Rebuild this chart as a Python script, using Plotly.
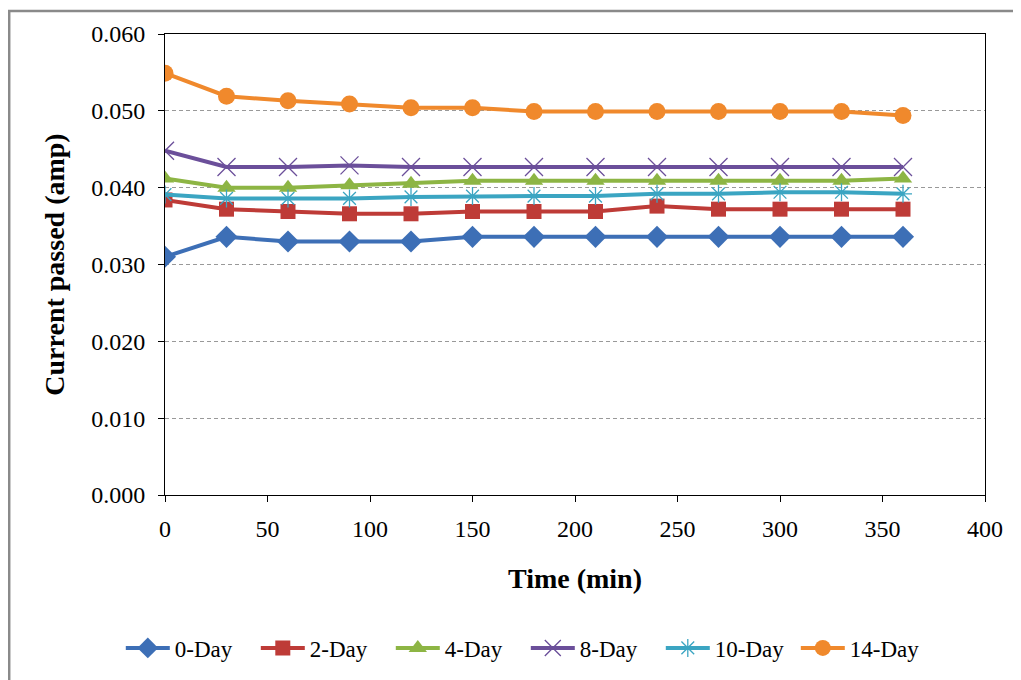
import plotly.graph_objects as go

time_min = [0, 30, 60, 90, 120, 150, 180, 210, 240, 270, 300, 330, 360]
series_names = ["0-Day", "2-Day", "4-Day", "8-Day", "10-Day", "14-Day"]

day0 = [0.0310, 0.0336, 0.0330, 0.0330, 0.0330, 0.0336, 0.0336, 0.0336, 0.0336, 0.0336, 0.0336, 0.0336, 0.0336]
day2 = [0.0384, 0.0372, 0.0369, 0.0366, 0.0366, 0.0369, 0.0369, 0.0369, 0.0376, 0.0372, 0.0372, 0.0372, 0.0372]
day4 = [0.0412, 0.0400, 0.0400, 0.0403, 0.0405, 0.0409, 0.0409, 0.0409, 0.0409, 0.0409, 0.0409, 0.0409, 0.0412]
day8 = [0.0448, 0.0427, 0.0427, 0.0429, 0.0427, 0.0427, 0.0427, 0.0427, 0.0427, 0.0427, 0.0427, 0.0427, 0.0427]
day10 = [0.0391, 0.0386, 0.0386, 0.0386, 0.0388, 0.0389, 0.0389, 0.0389, 0.0392, 0.0392, 0.0394, 0.0394, 0.0392]
day14 = [0.0549, 0.0519, 0.0513, 0.0509, 0.0504, 0.0504, 0.0499, 0.0499, 0.0499, 0.0499, 0.0499, 0.0499, 0.0494]

values = [day0, day2, day4, day8, day10, day14]
colors = ["#3D6FB6", "#BE3B37", "#8DB544", "#6B4F9A", "#3BA5C2", "#F0892C"]
symbols = ["diamond", "square", "triangle-up", "x-thin-open", "asterisk-open", "circle"]
msizes = [17, 15, 16, 18, 15, 17]

fig = go.Figure()
for name, vals, col, sym, ms in zip(series_names, values, colors, symbols, msizes):
    marker = dict(symbol=sym, size=ms, color=col)
    if sym in ("x-thin-open", "asterisk-open"):
        marker["line"] = dict(color=col, width=1.3)
    fig.add_trace(go.Scatter(x=time_min, y=vals, mode="lines+markers", name=name,
                             line=dict(color=col, width=4), marker=marker))

serif = "Liberation Serif, Times New Roman, serif"

fig.update_layout(
    width=1013, height=672,
    paper_bgcolor="white", plot_bgcolor="white",
    margin=dict(l=157, r=36, t=26, b=184),
    font=dict(family=serif, size=24, color="black"),
    showlegend=True,
    legend=dict(orientation="h", xref="paper", yref="paper",
                x=0.44, xanchor="center", y=-0.329, yanchor="middle",
                font=dict(family=serif, size=23, color="black"),
                entrywidth=76, itemwidth=44),
    xaxis=dict(range=[0, 400], dtick=50, tick0=0, showgrid=False, zeroline=False,
               showline=True, linecolor="black", linewidth=1, mirror=True,
               ticks="outside", ticklen=6, tickcolor="black", ticklabelstandoff=6,
               tickfont=dict(family=serif, size=24, color="black"),
               title=dict(text="<b>Time (min)</b>", font=dict(family=serif, size=28, color="black"), standoff=27)),
    yaxis=dict(range=[0, 0.060], dtick=0.01, tick0=0, tickformat=".3f",
               showgrid=True, gridcolor="#999", griddash="4px,3px", gridwidth=1, zeroline=False,
               showline=True, linecolor="black", linewidth=1, mirror=True,
               ticks="outside", ticklen=6, tickcolor="black", ticklabelstandoff=8,
               tickfont=dict(family=serif, size=24, color="black"),
               title=dict(text="<b>Current passed (amp)</b>", font=dict(family=serif, size=28, color="black"), standoff=18)),
)

fig.add_shape(type="rect", xref="paper", yref="paper",
              x0=-0.19, y0=-0.6, x1=1.3, y1=1.05,
              line=dict(color="#8a8a8a", width=2.5), fillcolor="rgba(0,0,0,0)", layer="below")

fig.write_html("out.html", config={"displayModeBar": False},
               post_script="document.body.style.overflow='hidden';")
